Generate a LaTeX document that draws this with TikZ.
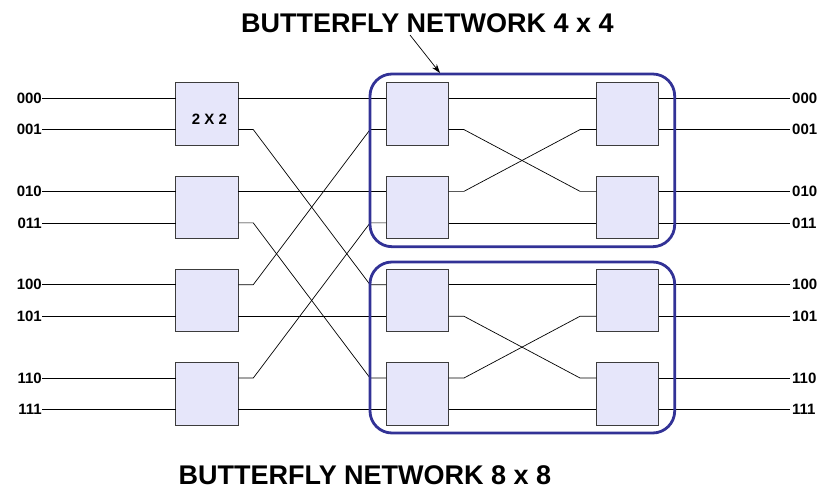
\documentclass[tikz,border=0pt]{standalone}
\usepackage{fontspec}
\setmainfont{Liberation Sans}
\usetikzlibrary{arrows.meta,calc}
\definecolor{boxfill}{RGB}{230,230,250}
\definecolor{boxline}{RGB}{60,60,60}
\definecolor{netblue}{RGB}{50,50,150}
\begin{document}
\begin{tikzpicture}[x=1pt,y=-1pt,
  sw/.style={draw=boxline, fill=boxfill, line width=0.9pt, minimum width=62.5pt, minimum height=62.5pt, inner sep=0pt, outer sep=0pt},
  wire/.style={draw=black, line width=0.7pt},
  net/.style={draw=netblue, line width=2.8pt, rounded corners=22pt, inner sep=0pt, outer sep=0pt},
  lbl/.style={font=\bfseries\fontsize{15}{15}\selectfont, inner sep=0pt},
  ttl/.style={font=\bfseries\fontsize{27}{27}\selectfont, inner sep=0pt, anchor=base}]
\useasboundingbox (0,0) rectangle (825,493);
% rows
\foreach \k/\y in {0/98.05,1/129.55,2/191.38,3/222.88,4/284.72,5/316.22,6/378.05,7/409.55}{
  \coordinate (r\k) at (0,\y);
}
% switches
\foreach \i/\cy in {0/114,1/207.33,2/300.67,3/394}{
  \node[sw] (a\i) at (207,\cy) {};
  \node[sw] (b\i) at (417.35,\cy) {};
  \node[sw] (c\i) at (627.65,\cy) {};
}
\node[lbl] (a0lbl) at (209.5,119.5) {2 X 2};
% labels and in/out wires
\foreach \k/\t/\j in {0/000/0,1/001/0,2/010/1,3/011/1,4/100/2,5/101/2,6/110/3,7/111/3}{
  \node[lbl, anchor=east] (in\k) at ($(42,0)+(r\k)$) {\t};
  \node[lbl, anchor=west] (out\k) at ($(792,0)+(r\k)$) {\t};
  \draw[wire] (in\k.east |- r\k) -- (a\j.west |- r\k);
  \draw[wire] (c\j.east |- r\k) -- ($(out\k.west |- r\k)+(-2,0)$);
}
% stage 1 -> 2 straight
\foreach \s/\d/\k in {0/0/0,1/1/2,2/2/5,3/3/7}{
  \draw[wire] (a\s.east |- r\k) -- (b\d.west |- r\k);
}
% stage 1 -> 2 crossed
\foreach \s/\ks/\d/\kd in {0/1/2/4,1/3/3/6,2/4/0/1,3/6/1/3}{
  \draw[wire] (a\s.east |- r\ks) -- ++(15,0) -- ($(b\d.west |- r\kd)+(-16,0)$) -- (b\d.west |- r\kd);
}
% stage 2 -> 3 straight
\foreach \s/\d/\k in {0/0/0,1/1/3,2/2/4,3/3/7}{
  \draw[wire] (b\s.east |- r\k) -- (c\d.west |- r\k);
}
% stage 2 -> 3 crossed
\foreach \s/\ks/\d/\kd in {0/1/1/2,1/2/0/1,2/5/3/6,3/6/2/5}{
  \draw[wire] (b\s.east |- r\ks) -- ++(15.3,0) -- ($(c\d.west |- r\kd)+(-16.3,0)$) -- (c\d.west |- r\kd);
}
% 4x4 groups
\node[net, minimum width=304.7pt, minimum height=172.7pt] (bf1) at (522.35,160.35) {};
\node[net, minimum width=304.7pt, minimum height=171pt] (bf2) at (522.35,347.5) {};
% titles
\node[ttl] (t1) at (427.5,32) {BUTTERFLY NETWORK 4 x 4};
\node[ttl] (t2) at (365,484) {BUTTERFLY NETWORK 8 x 8};
\coordinate (arrs) at (410,35);
\coordinate (arre) at (440,73);
\draw[line width=0.7pt, -{Stealth[length=9pt,width=6pt]}] (arrs) -- (arre);
\end{tikzpicture}
\end{document}
